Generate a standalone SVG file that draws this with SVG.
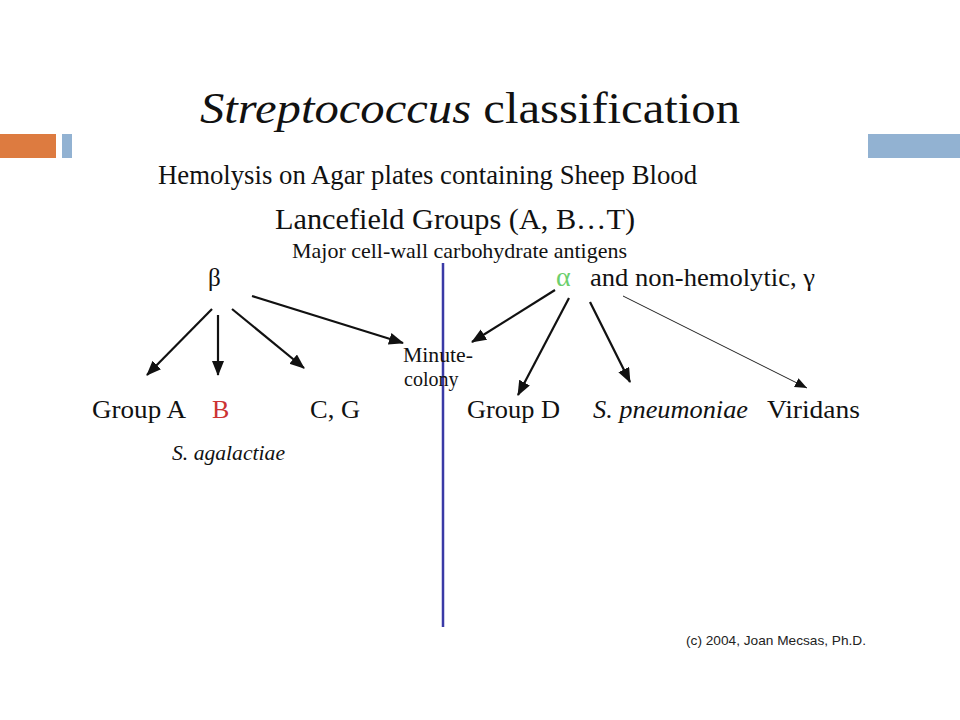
<svg xmlns="http://www.w3.org/2000/svg" width="960" height="720" viewBox="0 0 960 720">
<defs>
<style>
text{font-family:'Liberation Serif','Times New Roman',Times,serif}
.s{fill:#111}
.i{font-style:italic}
.ar{stroke:#111;stroke-width:2.2;fill:none;marker-end:url(#ah)}
.thin{stroke:#222;stroke-width:1;fill:none;marker-end:url(#ah2)}
</style>
<marker id="ah" markerUnits="userSpaceOnUse" markerWidth="16" markerHeight="14" refX="14" refY="6" orient="auto">
<path d="M0,0 L15,6 L0,12 Z" fill="#111"/>
</marker>
<marker id="ah2" markerUnits="userSpaceOnUse" markerWidth="14" markerHeight="12" refX="12" refY="5" orient="auto">
<path d="M0,0 L12,5 L0,10 Z" fill="#111"/>
</marker>
</defs>
<rect width="960" height="720" fill="#fff"/>
<g id="decor">
<rect x="0" y="134" width="56" height="24" fill="#dd7b40"/>
<rect x="62" y="134" width="10" height="24" fill="#92b2d2"/>
<rect x="868" y="134" width="92" height="24" fill="#92b2d2"/>
</g>
<g id="title"><text class="s" x="200" y="123" font-size="45" textLength="540" lengthAdjust="spacingAndGlyphs"><tspan class="i">Streptococcus</tspan> classification</text></g>
<g id="hemolysis"><text class="s" x="158" y="184" font-size="27" textLength="539" lengthAdjust="spacingAndGlyphs">Hemolysis on Agar plates containing Sheep Blood</text></g>
<g id="lancefield"><text class="s" x="275" y="229" font-size="30" textLength="360" lengthAdjust="spacingAndGlyphs">Lancefield Groups (A, B…T)</text></g>
<g id="major"><text class="s" x="292" y="258" font-size="21" textLength="335" lengthAdjust="spacingAndGlyphs">Major cell-wall carbohydrate antigens</text></g>
<g id="divider"><line x1="443" y1="263" x2="443" y2="627" stroke="#3a3aa6" stroke-width="2.5"/></g>
<g id="beta"><text class="s" x="208" y="286" font-size="25">β</text></g>
<g id="alpha"><text x="556" y="286" font-size="28" style="fill:#6ccf6c">α</text><text class="s" x="590" y="286" font-size="25" textLength="225" lengthAdjust="spacingAndGlyphs">and non-hemolytic, γ</text></g>
<g id="minute"><text class="s" x="403" y="362" font-size="20" textLength="70" lengthAdjust="spacingAndGlyphs">Minute-</text><text class="s" x="404" y="386" font-size="20">colony</text></g>
<g id="groupA"><text class="s" x="92" y="418" font-size="26" textLength="94" lengthAdjust="spacingAndGlyphs">Group A</text></g>
<g id="groupB"><text x="212" y="418" font-size="26" style="fill:#cc3333">B</text><text class="s i" x="172" y="460" font-size="21" textLength="113" lengthAdjust="spacingAndGlyphs">S. agalactiae</text></g>
<g id="groupCG"><text class="s" x="310" y="418" font-size="26" textLength="50" lengthAdjust="spacingAndGlyphs">C, G</text></g>
<g id="groupD"><text class="s" x="467" y="418" font-size="26" textLength="93" lengthAdjust="spacingAndGlyphs">Group D</text></g>
<g id="pneumoniae"><text class="s i" x="593" y="418" font-size="26" textLength="155" lengthAdjust="spacingAndGlyphs">S. pneumoniae</text></g>
<g id="viridans"><text class="s" x="767" y="418" font-size="26" textLength="93" lengthAdjust="spacingAndGlyphs">Viridans</text></g>
<g id="connectors">
<line class="ar" x1="212" y1="309" x2="147" y2="375"/>
<line class="ar" x1="218" y1="315" x2="218" y2="375"/>
<line class="ar" x1="232" y1="309" x2="304" y2="368"/>
<line class="ar" x1="252" y1="296" x2="403" y2="343"/>
<line class="ar" x1="555" y1="290" x2="472" y2="342"/>
<line class="ar" x1="569" y1="298" x2="518" y2="395"/>
<line class="ar" x1="590" y1="302" x2="630" y2="382"/>
<line class="thin" x1="623" y1="296" x2="807" y2="388"/>
</g>
<g id="credit"><text x="686" y="645" style="font-family:'Liberation Sans',Arial,sans-serif" font-size="13" fill="#222" textLength="180" lengthAdjust="spacingAndGlyphs">(c) 2004, Joan Mecsas, Ph.D.</text></g>
</svg>
